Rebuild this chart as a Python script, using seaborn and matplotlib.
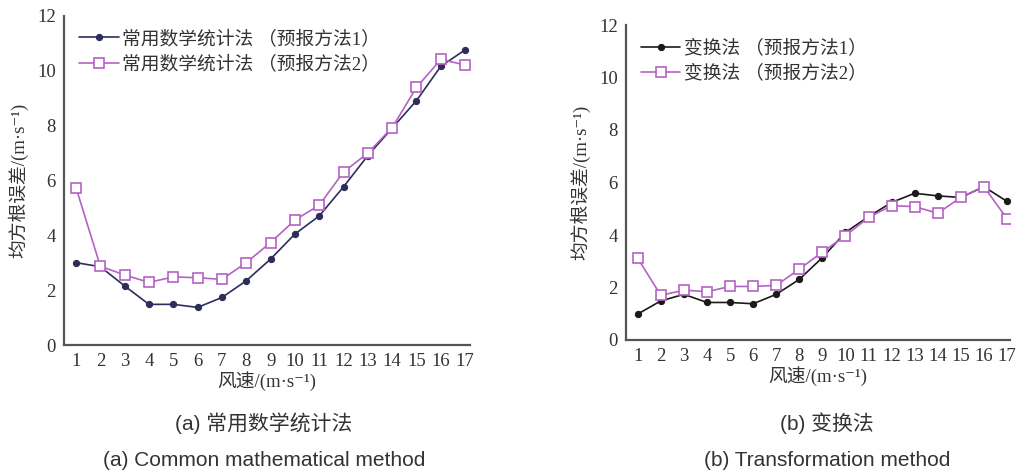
import numpy as np
import pandas as pd
import matplotlib
matplotlib.use("Agg")
import matplotlib.pyplot as plt
import seaborn as sns

sns.set_theme(style="white")
plt.rcParams['font.family'] = ['Liberation Serif', 'Noto Sans CJK SC', 'DejaVu Serif']
plt.rcParams['axes.unicode_minus'] = False

wind = list(range(1, 18))
xticklabels = [str(v) for v in wind]
yticks = [0, 2, 4, 6, 8, 10, 12]

# (a) common mathematical statistics method
stat_m1 = [3.0, 2.85, 2.15, 1.48, 1.48, 1.37, 1.73, 2.34, 3.13, 4.04, 4.70, 5.76, 6.90, 7.90, 8.90, 10.15, 10.75]
stat_m2 = [5.73, 2.87, 2.55, 2.28, 2.48, 2.45, 2.39, 3.00, 3.73, 4.55, 5.09, 6.30, 6.99, 7.92, 9.38, 10.40, 10.20]
# (b) transformation method
trans_m1 = [0.99, 1.49, 1.74, 1.43, 1.43, 1.38, 1.74, 2.31, 3.14, 4.10, 4.70, 5.24, 5.59, 5.49, 5.43, 5.84, 5.28]
trans_m2 = [3.11, 1.70, 1.90, 1.84, 2.04, 2.04, 2.08, 2.70, 3.35, 3.97, 4.67, 5.12, 5.08, 4.83, 5.43, 5.84, 4.62]

labels_a = ["常用数学统计法 （预报方法1）", "常用数学统计法 （预报方法2）"]
labels_b = ["变换法 （预报方法1）", "变换法 （预报方法2）"]
xlabel = "风速/(m·s⁻¹)"
ylabel = "均方根误差/(m·s⁻¹)"
caption_a = ["(a) 常用数学统计法", "(a) Common mathematical method"]
caption_b = ["(b) 变换法", "(b) Transformation method"]

navy = "#2d2d5a"
purple = "#b462c4"
black = "#1a1a1a"
spine_c = "#555555"
text_c = "#333333"

fig = plt.figure(figsize=(10.22, 4.74), dpi=100)
ax1 = fig.add_axes([64/1022, 1-345/474, (470-64)/1022, (345-15.5)/474])
ax2 = fig.add_axes([626/1022, 1-340/474, (1010-626)/1022, (340-25)/474])

def draw(ax, s1, s2, c1, labels, xlim):
    sns.lineplot(x=wind, y=s1, ax=ax, color=c1, marker='o', markersize=4.5,
                 markeredgecolor=c1, linewidth=1.2, label=labels[0])
    sns.lineplot(x=wind, y=s2, ax=ax, color=purple, marker='s', markersize=7.5,
                 markerfacecolor='white', markeredgecolor=purple, markeredgewidth=1.2,
                 linewidth=1.2, label=labels[1])
    ax.set_xlim(*xlim)
    ax.set_ylim(0, 12)
    ax.set_xticks(wind)
    ax.set_xticklabels(xticklabels)
    ax.set_yticks(yticks)
    for s in ['top', 'right']:
        ax.spines[s].set_visible(False)
    for s in ['left', 'bottom']:
        ax.spines[s].set_color(spine_c)
        ax.spines[s].set_linewidth(1.6)
    ax.tick_params(direction='in', length=5, width=1.2, colors=spine_c,
                   labelcolor=text_c, labelsize=13.5, pad=6)
    ax.set_xlabel(xlabel, fontsize=13.5, color=text_c, labelpad=1)
    ax.set_ylabel(ylabel, fontsize=13.5, color=text_c, labelpad=6)
    leg = ax.legend(loc='upper left', frameon=False, fontsize=13.5, handlelength=2.1,
                    handletextpad=0.2, labelspacing=0.4, borderaxespad=0.2,
                    bbox_to_anchor=(0.01, 0.99))
    for t in leg.get_texts():
        t.set_color(text_c)

draw(ax1, stat_m1, stat_m2, navy, labels_a, (0.506, 17.2))
draw(ax2, trans_m1, trans_m2, black, labels_b, (0.49, 17.13))

cap_font = ['Liberation Sans', 'Noto Sans CJK SC']
cap_size = 15
fig.text(264/1022, 1-423/474, caption_a[0], ha='center', va='center', fontsize=cap_size, family=cap_font, color=text_c)
fig.text(264/1022, 1-461/474, caption_a[1], ha='center', va='center', fontsize=cap_size, family=cap_font, color=text_c)
fig.text(827/1022, 1-423/474, caption_b[0], ha='center', va='center', fontsize=cap_size, family=cap_font, color=text_c)
fig.text(827/1022, 1-461/474, caption_b[1], ha='center', va='center', fontsize=cap_size, family=cap_font, color=text_c)

fig.savefig("out.png", dpi=100)
